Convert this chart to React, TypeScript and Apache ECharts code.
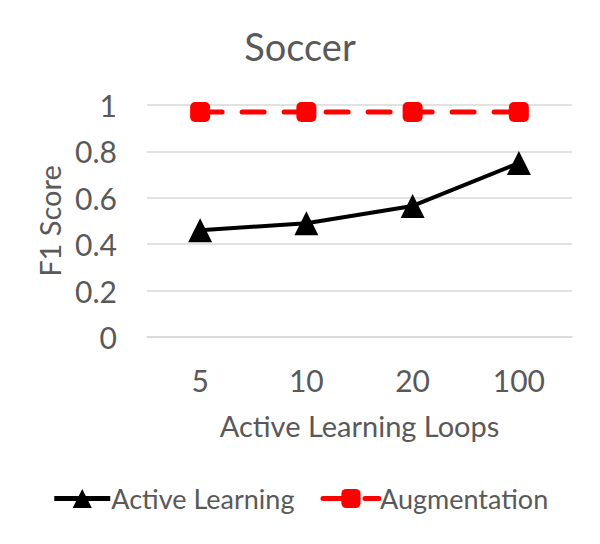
import React, { useEffect, useRef } from "react";
import * as echarts from "echarts";

const categories = ["5", "10", "20", "100"];
const activeLearning = [0.46, 0.49, 0.565, 0.75];
const augmentation = [0.97, 0.97, 0.97, 0.97];
const yTicks = [0, 0.2, 0.4, 0.6, 0.8, 1];

const FONT = "Lato, 'Open Sans', sans-serif";
const TXT = "#595959";

export default function App() {
  const ref = useRef<HTMLDivElement>(null);
  useEffect(() => {
    const chart = echarts.init(ref.current!, null, { renderer: "svg" });
    chart.setOption({
      animation: false,
      backgroundColor: "#fff",
      title: {
        text: "Soccer",
        left: "center",
        top: 22,
        textStyle: { fontFamily: FONT, fontSize: 38, fontWeight: "normal", color: TXT },
      },
      legend: {
        bottom: 27,
        left: "center",
        itemWidth: 56,
        itemHeight: 24,
        itemGap: 26,
        lineStyle: { width: 5 },
        textStyle: { fontFamily: FONT, fontSize: 27, color: TXT, padding: [0, 0, 0, -4] },
        data: ["Active Learning", "Augmentation"],
      },
      grid: { left: 147, right: 28, top: 105, bottom: 207 },
      xAxis: {
        type: "category",
        data: categories,
        name: "Active Learning Loops",
        nameLocation: "middle",
        nameGap: 74,
        nameTextStyle: { fontFamily: FONT, fontSize: 29, color: TXT },
        axisLine: { lineStyle: { color: "#d9d9d9", width: 1.5 } },
        axisTick: { show: false },
        axisLabel: { fontFamily: FONT, fontSize: 30, color: TXT, margin: 28 },
      },
      yAxis: {
        type: "value",
        min: 0,
        max: 1,
        interval: 0.2,
        name: "F1 Score",
        nameLocation: "middle",
        nameGap: 83,
        nameTextStyle: { fontFamily: FONT, fontSize: 29, color: TXT },
        axisLabel: {
          fontFamily: FONT,
          fontSize: 30,
          color: TXT,
          margin: 30,
          formatter: (v: number) => (yTicks.includes(Math.round(v * 10) / 10) ? String(Math.round(v * 10) / 10) : ""),
        },
        splitLine: { lineStyle: { color: "#d9d9d9", width: 1.5 } },
        axisLine: { show: false },
        axisTick: { show: false },
      },
      series: [
        {
          name: "Active Learning",
          type: "line",
          data: activeLearning,
          symbol: "triangle",
          symbolSize: 24,
          itemStyle: { color: "#000" },
          lineStyle: { color: "#000", width: 4 },
        },
        {
          name: "Augmentation",
          type: "line",
          data: augmentation,
          symbol: "roundRect",
          symbolSize: 20,
          itemStyle: { color: "#ff0000" },
          lineStyle: { color: "#ff0000", width: 5, type: [22, 20], cap: "round" },
        },
      ],
    });
    return () => chart.dispose();
  }, []);
  return <div ref={ref} style={{ width: 600, height: 544, margin: -8 }} />;
}
